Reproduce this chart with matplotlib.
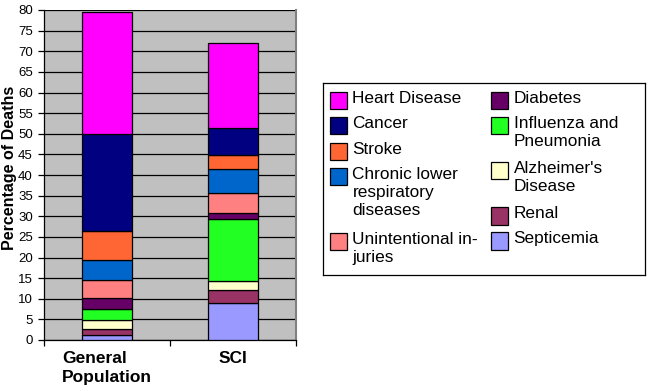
import matplotlib
matplotlib.use('Agg')
import matplotlib.pyplot as plt
from matplotlib.patches import Rectangle
import numpy as np

plt.rcParams['font.family'] = ['Liberation Sans', 'DejaVu Sans']

# groups on the x axis
groups = ['General\nPopulation', 'SCI']

# causes, bottom of the stack first
causes = ['Septicemia', 'Renal', "Alzheimer's\nDisease", 'Influenza and\nPneumonia',
          'Diabetes', 'Unintentional in-\njuries', 'Chronic lower\nrespiratory\ndiseases',
          'Stroke', 'Cancer', 'Heart Disease']
colors = ['#9999FF', '#993366', '#FFFFCC', '#22FF22', '#660066',
          '#FF8080', '#0066CC', '#FF6633', '#000080', '#FF00FF']

# percentage of deaths per cause
general_pop = [1.2, 1.4, 2.2, 2.6, 2.9, 4.2, 5.0, 7.0, 23.4, 29.5]
sci = [8.9, 3.3, 2.0, 15.2, 1.3, 5.0, 5.7, 3.4, 6.6, 20.5]

fig = plt.figure(figsize=(6.49, 3.91), dpi=100)
ax = fig.add_axes([44/649, 51/391, 252/649, 330/391])
ax.set_facecolor('#C0C0C0')

x = np.arange(len(groups))
bottom = np.zeros(len(groups))
for i, cause in enumerate(causes):
    vals = np.array([general_pop[i], sci[i]])
    ax.bar(x, vals, 0.4, bottom=bottom, color=colors[i], edgecolor='black',
           linewidth=0.9, zorder=3)
    bottom += vals

ax.set_xlim(-0.5, 1.5)
ax.set_ylim(0, 80)
ax.set_yticks(np.arange(0, 81, 5))
ax.yaxis.grid(True, color='black', linewidth=0.9, zorder=1)
ax.set_axisbelow(True)
ax.tick_params(axis='y', direction='out', length=4, width=0.9, labelsize=9.5, pad=4)

# ticks between categories, labels at the centers
ax.set_xticks([-0.5, 0.5, 1.5])
ax.set_xticklabels(['', '', ''])
ax.set_xticks(x, minor=True)
ax.set_xticklabels(groups, minor=True, fontsize=12.5, fontweight='bold',
                   multialignment='left', linespacing=1.35)
ax.tick_params(axis='x', which='major', direction='out', length=4, width=0.9)
ax.tick_params(axis='x', which='minor', length=0, pad=8)

for s in ['left', 'bottom']:
    ax.spines[s].set_color('black')
    ax.spines[s].set_linewidth(0.9)
ax.spines['top'].set_visible(False)
ax.spines['right'].set_color('#808080')
ax.spines['right'].set_linewidth(1.5)

fig.text(10/649, 1 - 168/391, 'Percentage of Deaths', fontsize=11.5, fontweight='bold',
         rotation=90, ha='center', va='center')

# legend box drawn by hand (pixel coords inside the box)
lax = fig.add_axes([323/649, (391-275)/391, 322/649, 192/391])
lax.set_xlim(0, 322)
lax.set_ylim(192, 0)
lax.set_xticks([])
lax.set_yticks([])
for s in lax.spines.values():
    s.set_linewidth(0.9)

legend_order = ['Heart Disease', 'Cancer', 'Stroke', 'Chronic lower\nrespiratory\ndiseases',
                'Unintentional in-\njuries', 'Diabetes', 'Influenza and\nPneumonia',
                "Alzheimer's\nDisease", 'Renal', 'Septicemia']
col_x = [6.5] * 5 + [167.5] * 5
row_y = [8.7, 33.7, 59.7, 84.7, 149.7, 8.7, 33.7, 78.7, 124.3, 149.3]
for name, lx, ly in zip(legend_order, col_x, row_y):
    c = colors[causes.index(name)]
    lax.add_patch(Rectangle((lx, ly), 17.4, 17.4, facecolor=c, edgecolor='black',
                            linewidth=0.9))
    lax.text(lx + 23, ly - 1.0, name, fontsize=12.4, va='top', ha='left',
             linespacing=1.25)

fig.savefig('out.png', dpi=100)
